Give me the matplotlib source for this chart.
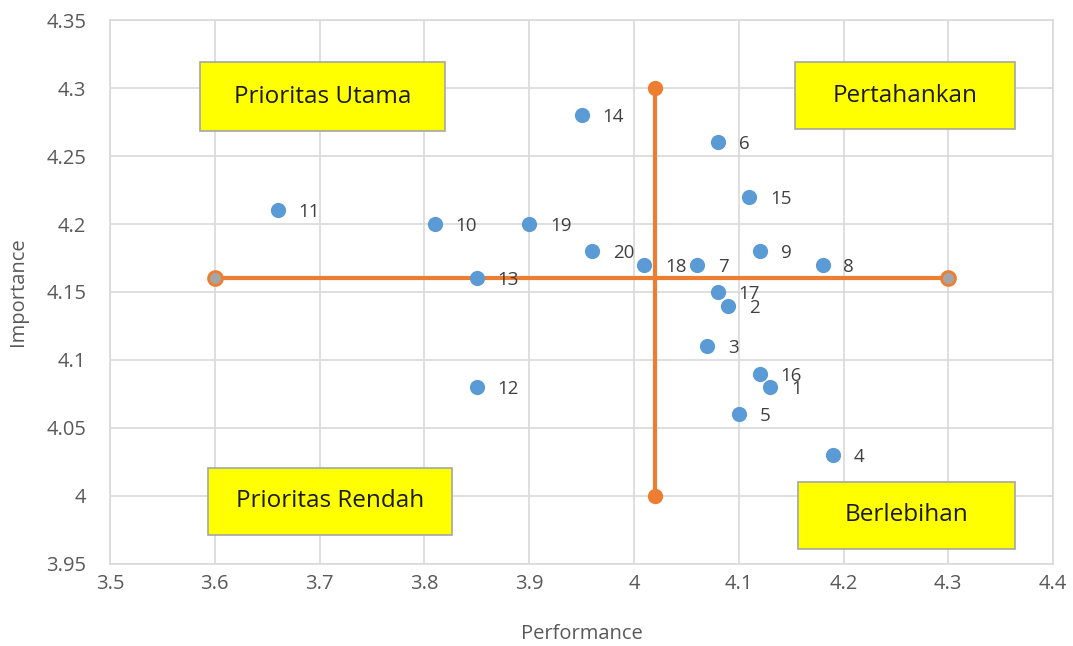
import matplotlib
matplotlib.use("Agg")
from matplotlib import pyplot as plt
from matplotlib.patches import Rectangle

# data
labels = ["1", "2", "3", "4", "5", "6", "7", "8", "9", "10",
          "11", "12", "13", "14", "15", "16", "17", "18", "19", "20"]
performance = [4.13, 4.09, 4.07, 4.19, 4.10, 4.08, 4.06, 4.18, 4.12, 3.81,
               3.66, 3.85, 3.85, 3.95, 4.11, 4.12, 4.08, 4.01, 3.90, 3.96]
importance = [4.08, 4.14, 4.11, 4.03, 4.06, 4.26, 4.17, 4.17, 4.18, 4.20,
              4.21, 4.08, 4.16, 4.28, 4.22, 4.09, 4.15, 4.17, 4.20, 4.18]

h_line_x = [3.6, 4.3]
h_line_y = [4.16, 4.16]
v_line_x = [4.02, 4.02]
v_line_y = [4.0, 4.3]

quadrants = ["Prioritas Utama", "Pertahankan", "Prioritas Rendah", "Berlebihan"]

plt.rcParams['font.family'] = ['Open Sans', 'DejaVu Sans']

fig = plt.figure(figsize=(10.73, 6.46), dpi=100)
ax = fig.add_axes([0.1025, 0.127, 0.879, 0.842])

orange = "#ED7D31"
grey_txt = "#595959"

ax.plot(h_line_x, h_line_y, color=orange, lw=3, marker="o", markersize=10,
        markerfacecolor="#A5A5A5", markeredgecolor=orange, markeredgewidth=2, zorder=3)
ax.plot(v_line_x, v_line_y, color=orange, lw=3, marker="o", markersize=10,
        markerfacecolor=orange, markeredgecolor=orange, zorder=3)

ax.scatter(performance, importance, s=120, color="#5B9BD5", zorder=4, linewidths=0)
for lab, x, y in zip(labels, performance, importance):
    ax.annotate(lab, (x, y), xytext=(15, -1.5), textcoords="offset points",
                ha="left", va="center", fontsize=13.5, color="#404040", zorder=5)

ax.set_xlim(3.5, 4.4)
ax.set_ylim(3.95, 4.35)
ax.set_xticks([3.5, 3.6, 3.7, 3.8, 3.9, 4.0, 4.1, 4.2, 4.3, 4.4])
ax.set_xticklabels(["3.5", "3.6", "3.7", "3.8", "3.9", "4", "4.1", "4.2", "4.3", "4.4"])
ax.set_yticks([3.95, 4.0, 4.05, 4.1, 4.15, 4.2, 4.25, 4.3, 4.35])
ax.set_yticklabels(["3.95", "4", "4.05", "4.1", "4.15", "4.2", "4.25", "4.3", "4.35"])
ax.grid(True, color="#D9D9D9", lw=1.2, zorder=0)
ax.set_axisbelow(True)
for s in ax.spines.values():
    s.set_color("#D9D9D9")
    s.set_linewidth(1.2)
ax.tick_params(axis="y", length=0, labelsize=14.5, colors=grey_txt, pad=17)
ax.tick_params(axis="x", length=0, labelsize=14.5, colors=grey_txt, pad=7)
ax.set_xlabel("Performance", fontsize=14.5, color=grey_txt, labelpad=22)
ax.set_ylabel("Importance", fontsize=14.5, color=grey_txt, labelpad=13)

boxes = [(0.0954, 0.796, 0.2598, 0.1268),
         (0.7264, 0.7996, 0.2333, 0.1232),
         (0.1039, 0.0533, 0.2588, 0.1232),
         (0.7296, 0.0276, 0.2301, 0.1231)]
for name, (bx, by, bw, bh) in zip(quadrants, boxes):
    ax.add_patch(Rectangle((bx, by), bw, bh, transform=ax.transAxes,
                           facecolor="#FFFF00", edgecolor="#A5A5A5", lw=1.2, zorder=6))
    ax.text(bx + bw / 2, by + bh / 2, name, transform=ax.transAxes,
            ha="center", va="center", fontsize=17.5, color="#1a1a1a", zorder=7)

fig.savefig("out.png", dpi=100)
